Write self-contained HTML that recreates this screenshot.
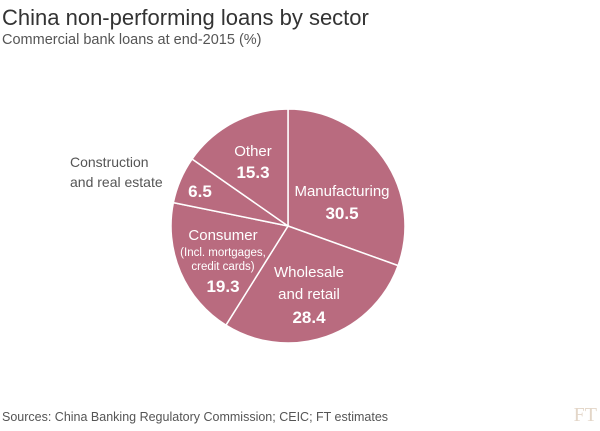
<!DOCTYPE html>
<html><head><meta charset="utf-8"><style>
body{margin:0;background:#fff;width:600px;height:426px;overflow:hidden;font-family:"Liberation Sans",sans-serif}
</style></head><body>
<svg width="600" height="426" xmlns="http://www.w3.org/2000/svg" font-family="Liberation Sans, sans-serif">
<text x="2" y="25" font-size="22" fill="#333">China non-performing loans by sector</text>
<text x="2" y="44" font-size="14.5" fill="#555">Commercial bank loans at end-2015 (%)</text>
<g id="pie"></g>
<g fill="#fff" text-anchor="middle">
<text x="342" y="196" font-size="15">Manufacturing</text>
<text x="342" y="219" font-size="17" font-weight="bold">30.5</text>
<text x="309" y="277" font-size="15">Wholesale</text>
<text x="309" y="299" font-size="15">and retail</text>
<text x="309" y="323" font-size="17" font-weight="bold">28.4</text>
<text x="223" y="240" font-size="15">Consumer</text>
<text x="223" y="256" font-size="11.5">(Incl. mortgages,</text>
<text x="223" y="270" font-size="11.5">credit cards)</text>
<text x="223" y="292" font-size="17" font-weight="bold">19.3</text>
<text x="200" y="197" font-size="17" font-weight="bold">6.5</text>
<text x="253" y="156" font-size="15">Other</text>
<text x="253" y="178" font-size="17" font-weight="bold">15.3</text>
</g>
<text x="70" y="167" font-size="14" fill="#555">Construction</text>
<text x="70" y="187" font-size="14" fill="#555">and real estate</text>
<text x="2" y="421" font-size="12.5" fill="#555">Sources: China Banking Regulatory Commission; CEIC; FT estimates</text>
<text x="597" y="421" font-size="20" fill="#e3d6c8" text-anchor="end" font-family="Liberation Serif, serif">FT</text>
</svg>
<script>
const categories=["Manufacturing","Wholesale and retail","Consumer","Construction and real estate","Other"];
const values=[30.5,28.4,19.3,6.5,15.3];
const cx=288,cy=226,r=117;
const total=values.reduce((a,b)=>a+b,0);
const angle=v=>v/total*2*Math.PI;
const g=document.getElementById('pie');
let a0=0;
values.forEach((v,i)=>{
  const a1=a0+angle(v);
  const x0=cx+r*Math.sin(a0),y0=cy-r*Math.cos(a0),x1=cx+r*Math.sin(a1),y1=cy-r*Math.cos(a1);
  const p=document.createElementNS('http://www.w3.org/2000/svg','path');
  p.setAttribute('d',`M${cx},${cy}L${x0},${y0}A${r},${r} 0 ${a1-a0>Math.PI?1:0} 1 ${x1},${y1}Z`);
  p.setAttribute('fill','#b96b7f');
  p.setAttribute('stroke','#fff');
  p.setAttribute('stroke-width','1.5');
  
  
  g.appendChild(p);
  a0=a1;
});
</script>
</body></html>
